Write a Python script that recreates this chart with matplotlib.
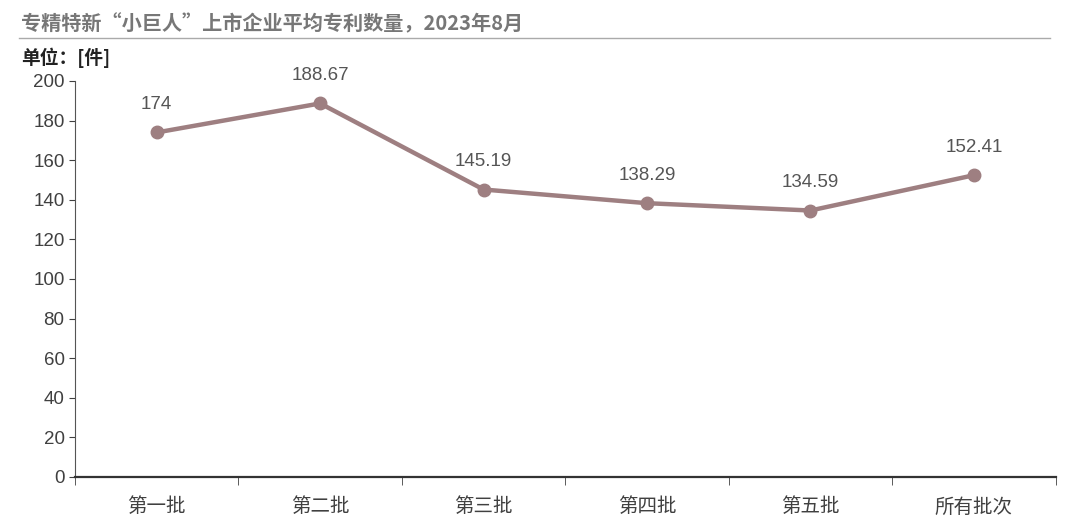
import numpy as np
import matplotlib.pyplot as plt
from matplotlib.lines import Line2D

plt.rcParams['font.family'] = ['Noto Sans CJK SC', 'DejaVu Sans']

categories = ["第一批", "第二批", "第三批", "第四批", "第五批", "所有批次"]
patents = [174, 188.67, 145.19, 138.29, 134.59, 152.41]
labels = ["174", "188.67", "145.19", "138.29", "134.59", "152.41"]

line_color = "#9e7f81"
text_color = "#404040"

fig = plt.figure(figsize=(10.8, 5.28), dpi=100)
ax = fig.add_axes([0.0694, 0.0966, 0.908, 0.75])

x = np.arange(len(categories))
ax.plot(x, patents, color=line_color, lw=3.2, marker="o", ms=9, zorder=3)
for xi, v, s in zip(x, patents, labels):
    ax.annotate(s, (xi, v), xytext=(0, 14), textcoords="offset points",
                ha="center", va="bottom", fontsize=13.5, color="#555555",
                family=["Liberation Sans", "DejaVu Sans"])

ax.set_xlim(-0.5, len(categories) - 0.5)
ax.set_ylim(0, 200)
ax.set_yticks(range(0, 201, 20))
ax.set_xticks(x)
ax.set_xticklabels(categories, fontsize=14, color=text_color)
ax.set_xticks(np.arange(-0.5, len(categories), 1), minor=True)
ax.tick_params(axis="x", which="major", length=0, pad=14)
ax.tick_params(axis="x", which="minor", length=6, direction="out", color=text_color)
ax.tick_params(axis="y", length=4, color=text_color, labelsize=13.5, labelcolor=text_color)
for lab in ax.get_yticklabels():
    lab.set_family(["Liberation Sans", "DejaVu Sans"])

for side in ["top", "right"]:
    ax.spines[side].set_visible(False)
ax.spines["left"].set_color("#555555")
ax.spines["bottom"].set_color("#333333")
ax.spines["bottom"].set_linewidth(1.6)

fig.text(0.019, 0.955, "专精特新“小巨人”上市企业平均专利数量，2023年8月",
         fontsize=14.5, color="#777777", va="center", weight="bold")
fig.add_artist(Line2D([0.018, 0.972], [0.928, 0.928], transform=fig.transFigure,
                      color="#aaaaaa", lw=1))
fig.text(0.02, 0.89, "单位：[件]", fontsize=13.5, color="#222222",
         va="center", weight="bold")

fig.savefig("out.png", dpi=100)
